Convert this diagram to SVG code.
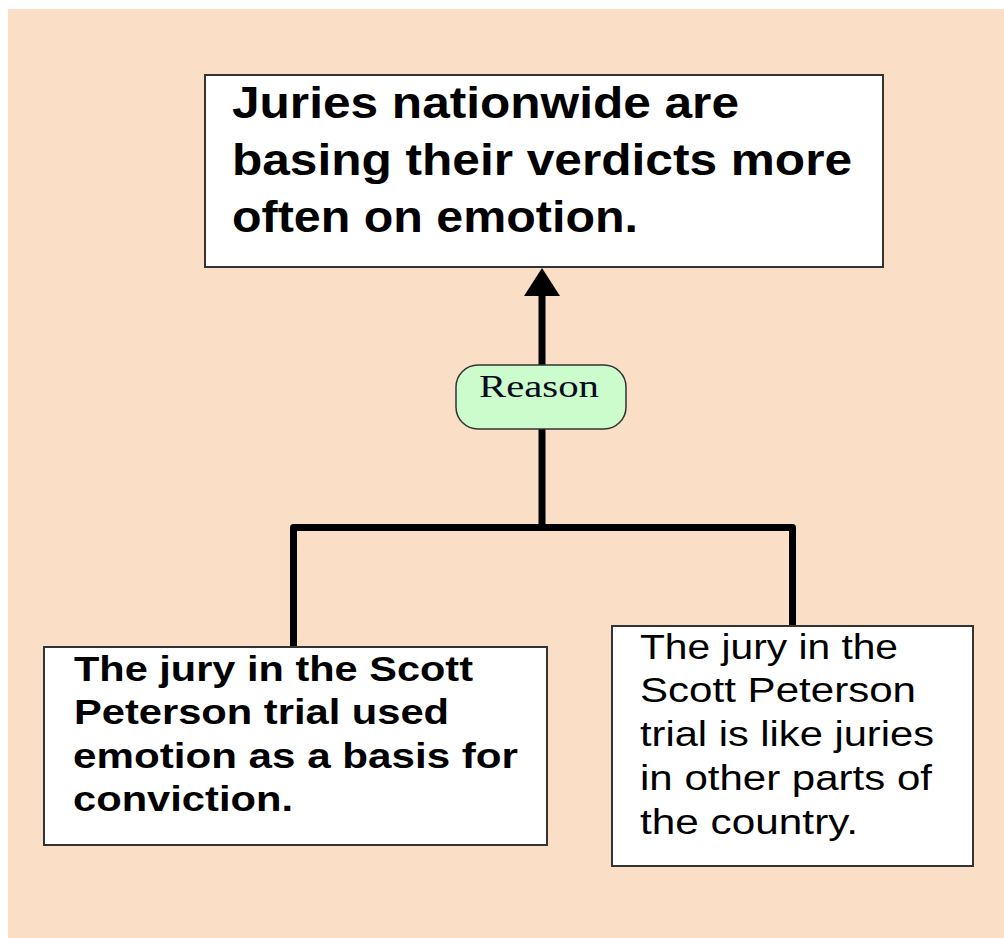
<svg xmlns="http://www.w3.org/2000/svg" width="1004" height="938" viewBox="0 0 1004 938">
  <style>
    .box { fill: #ffffff; stroke: #333333; stroke-width: 2; }
    .bold { font-family: "Liberation Sans", Arial, sans-serif; font-weight: bold; fill: #000000; }
    .plain { font-family: "Liberation Sans", Arial, sans-serif; fill: #000000; }
    .link { fill: none; stroke: #000000; stroke-width: 7; stroke-linejoin: round; }
    .tag { fill: #ccfccc; stroke: #333333; stroke-width: 1.5; }
    .tagtext { font-family: "Liberation Serif", "Times New Roman", serif; fill: #0a0a20; }
  </style>
  <defs>
    <marker id="head" viewBox="0 -18 28 36" refX="0" refY="0" markerUnits="userSpaceOnUse" markerWidth="28" markerHeight="36" orient="auto">
      <path d="M0,-18 L28,0 L0,18 z" fill="#000000"/>
    </marker>
  </defs>

  <!-- page -->
  <rect x="0" y="0" width="1004" height="938" fill="#ffffff"/>
  <rect x="8" y="9" width="996" height="929" fill="#fbdec6"/>

  <!-- connectors -->
  <g id="connectors">
    <path class="link" d="M542,527.5 V429"/>
    <path class="link" d="M542,365 V296" marker-end="url(#head)"/>
    <path class="link" d="M293.5,647 V527.5 H792.5 V626"/>
  </g>

  <!-- conclusion -->
  <g id="claim">
    <rect class="box" x="205" y="75" width="678" height="192"/>
    <text class="bold" font-size="44">
      <tspan x="232" y="118" textLength="507" lengthAdjust="spacingAndGlyphs">Juries nationwide are</tspan>
      <tspan x="232" y="175" textLength="620" lengthAdjust="spacingAndGlyphs">basing their verdicts more</tspan>
      <tspan x="232" y="232" textLength="406" lengthAdjust="spacingAndGlyphs">often on emotion.</tspan>
    </text>
  </g>

  <!-- inference label -->
  <g id="reason">
    <rect class="tag" x="456" y="365" width="170" height="64" rx="22" ry="22"/>
    <text class="tagtext" font-size="32" x="479" y="397" textLength="120" lengthAdjust="spacingAndGlyphs">Reason</text>
  </g>

  <!-- premise 1 -->
  <g id="premise1">
    <rect class="box" x="44" y="647" width="503" height="198"/>
    <text class="bold" font-size="35">
      <tspan x="74" y="681" textLength="399" lengthAdjust="spacingAndGlyphs">The jury in the Scott</tspan>
      <tspan x="74" y="724" textLength="375" lengthAdjust="spacingAndGlyphs">Peterson trial used</tspan>
      <tspan x="73" y="768" textLength="445" lengthAdjust="spacingAndGlyphs">emotion as a basis for</tspan>
      <tspan x="73" y="811" textLength="220" lengthAdjust="spacingAndGlyphs">conviction.</tspan>
    </text>
  </g>

  <!-- premise 2 -->
  <g id="premise2">
    <rect class="box" x="612" y="626" width="361" height="240"/>
    <text class="plain" font-size="35">
      <tspan x="640" y="659" textLength="258" lengthAdjust="spacingAndGlyphs">The jury in the</tspan>
      <tspan x="640" y="702" textLength="276" lengthAdjust="spacingAndGlyphs">Scott Peterson</tspan>
      <tspan x="640" y="746" textLength="294" lengthAdjust="spacingAndGlyphs">trial is like juries</tspan>
      <tspan x="640" y="790" textLength="292" lengthAdjust="spacingAndGlyphs">in other parts of</tspan>
      <tspan x="640" y="834" textLength="218" lengthAdjust="spacingAndGlyphs">the country.</tspan>
    </text>
  </g>
</svg>
